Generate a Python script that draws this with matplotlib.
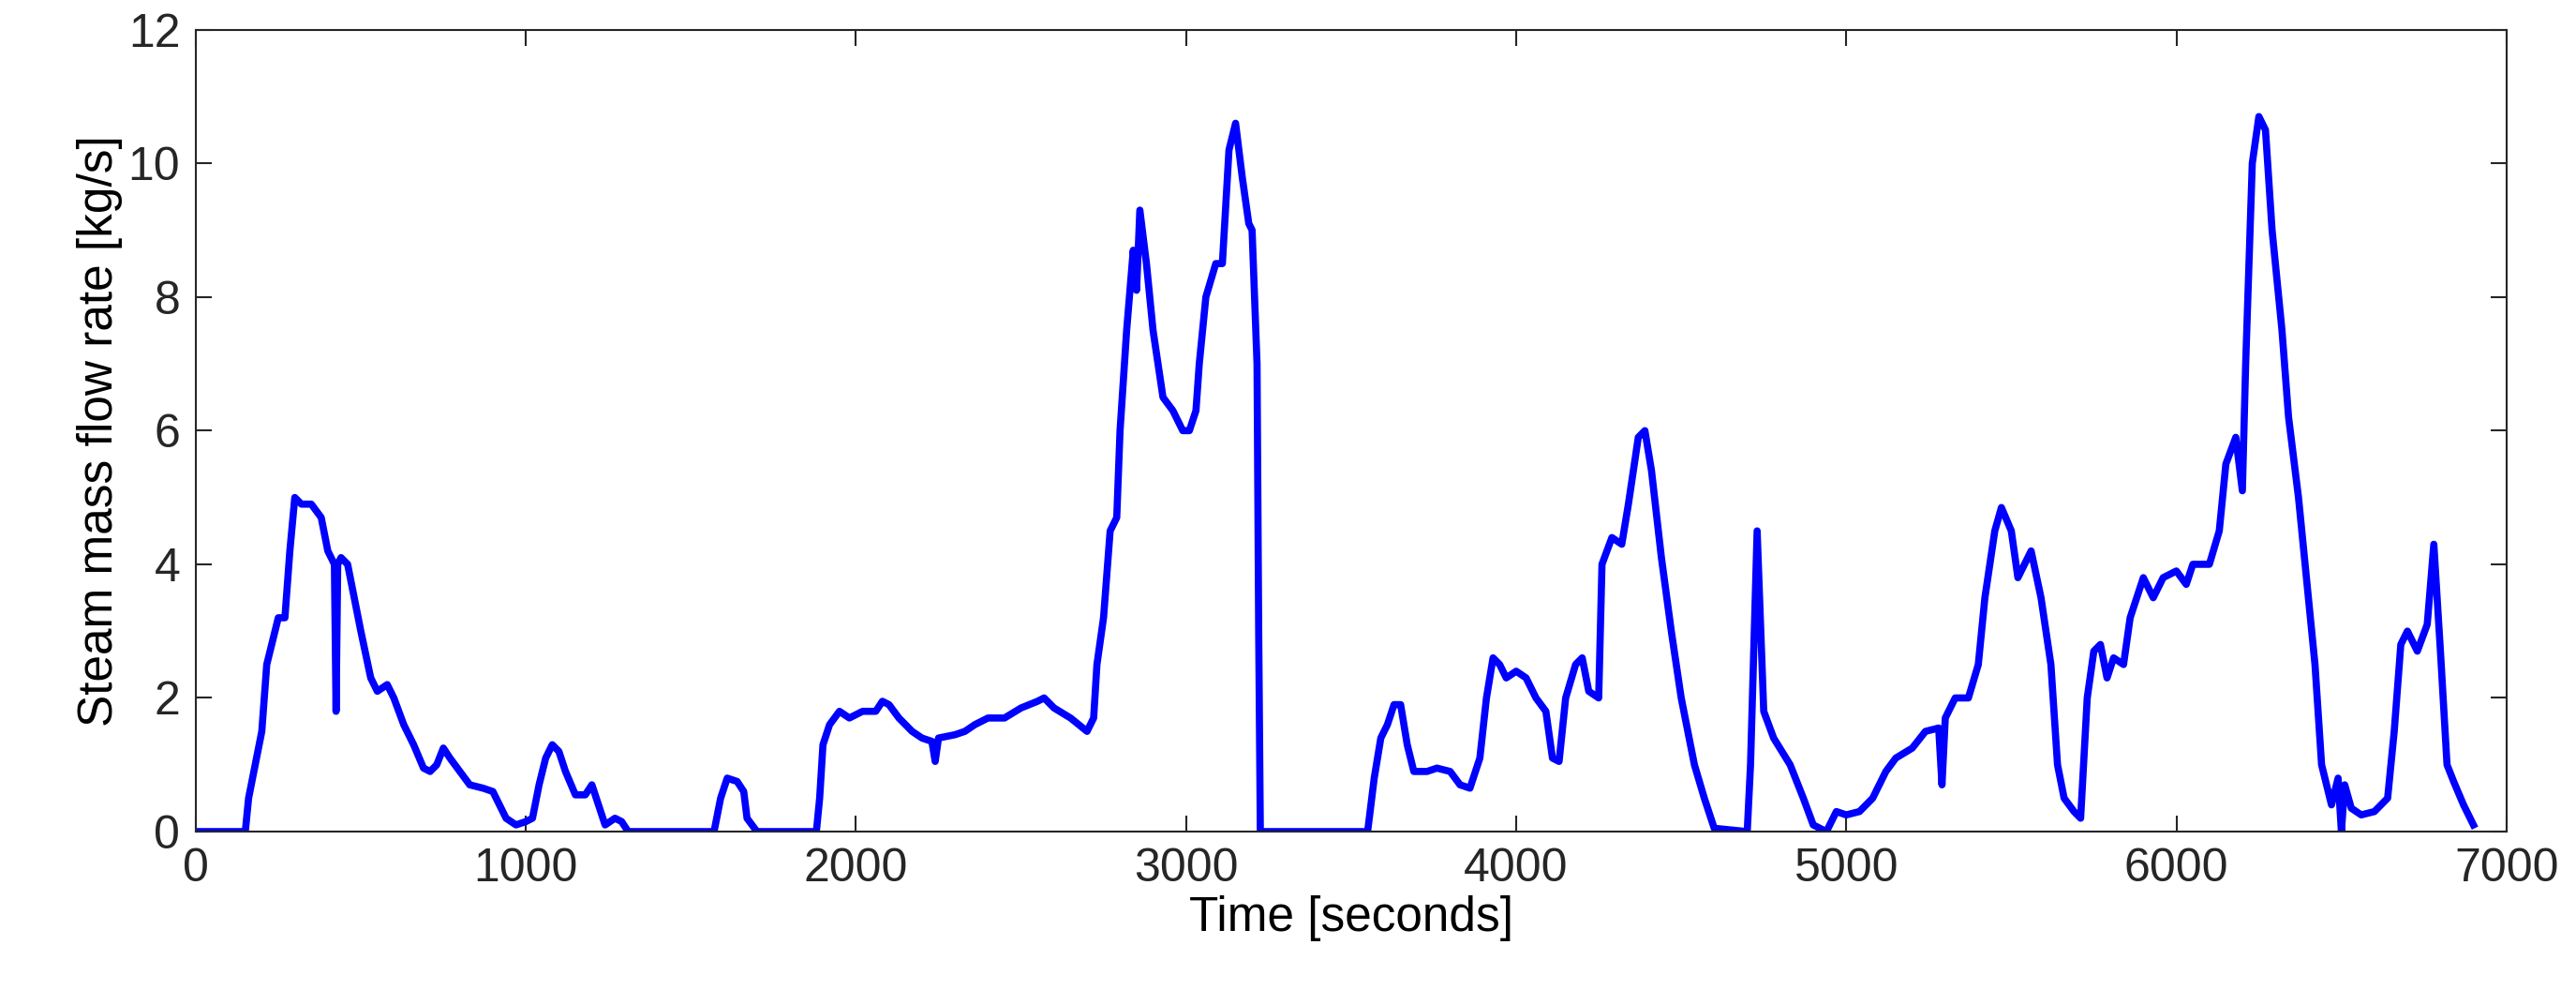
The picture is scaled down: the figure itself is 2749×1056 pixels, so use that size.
import matplotlib
matplotlib.use("Agg")
import matplotlib.pyplot as plt

# time [s] and steam mass flow [kg/s]
t = [0, 150, 160, 180, 200, 215, 230, 250, 270, 285, 300, 320, 350, 380, 400, 420, 425, 430, 440, 460,
     480, 500, 530, 550, 580, 600, 630, 660, 690, 710, 730, 750, 770, 800, 830, 870, 900, 920, 940, 970,
     1000, 1020, 1040, 1060, 1080, 1100, 1120, 1150, 1180, 1200, 1220, 1240, 1270, 1290, 1310, 1570, 1590,
     1610, 1640, 1660, 1670, 1700, 1880, 1890, 1900, 1920, 1950, 1980, 2020, 2060, 2080, 2100, 2130, 2170,
     2200, 2230, 2240, 2250, 2300, 2330, 2360, 2400, 2450, 2500, 2550, 2570, 2600, 2650, 2700, 2720, 2730,
     2750, 2770, 2790, 2800, 2820, 2840, 2850, 2860, 2880, 2900, 2930, 2960, 2990, 3010, 3030, 3040, 3060,
     3090, 3110, 3130, 3150, 3170, 3190, 3200, 3215, 3220, 3225, 3550, 3570, 3590, 3610, 3630, 3650, 3670,
     3690, 3730, 3760, 3800, 3830, 3860, 3890, 3910, 3930, 3950, 3970, 4000, 4030, 4060, 4090, 4110, 4130,
     4150, 4180, 4200, 4220, 4250, 4260, 4290, 4320, 4340, 4370, 4390, 4410, 4440, 4470, 4500, 4540, 4570,
     4600, 4700, 4710, 4730, 4750, 4780, 4830, 4870, 4900, 4940, 4970, 5000, 5040, 5080, 5120, 5150, 5200,
     5240, 5280, 5290, 5300, 5330, 5370, 5400, 5420, 5450, 5470, 5500, 5520, 5560, 5590, 5620, 5640, 5660,
     5690, 5710, 5730, 5750, 5770, 5790, 5810, 5840, 5860, 5900, 5930, 5960, 6000, 6030, 6050, 6100, 6130,
     6150, 6180, 6200, 6210, 6230, 6250, 6270, 6290, 6320, 6340, 6370, 6400, 6420, 6440, 6470, 6490, 6500,
     6510, 6530, 6560, 6600, 6640, 6660, 6680, 6700, 6730, 6760, 6780, 6800, 6820, 6840, 6870, 6900]
flow = [0, 0, 0.5, 1.0, 1.5, 2.5, 2.8, 3.2, 3.2, 4.2, 5.0, 4.9, 4.9, 4.7, 4.2, 4.0, 1.8, 4.0, 4.1, 4.0,
        3.5, 3.0, 2.3, 2.1, 2.2, 2.0, 1.6, 1.3, 0.95, 0.9, 1.0, 1.25, 1.1, 0.9, 0.7, 0.65, 0.6, 0.4, 0.2, 0.1,
        0.15, 0.2, 0.7, 1.1, 1.3, 1.2, 0.9, 0.55, 0.55, 0.7, 0.4, 0.1, 0.2, 0.15, 0, 0, 0.5,
        0.8, 0.75, 0.6, 0.2, 0, 0, 0.5, 1.3, 1.6, 1.8, 1.7, 1.8, 1.8, 1.95, 1.9, 1.7, 1.5,
        1.4, 1.35, 1.05, 1.4, 1.45, 1.5, 1.6, 1.7, 1.7, 1.85, 1.95, 2.0, 1.85, 1.7, 1.5, 1.7, 2.5,
        3.2, 4.5, 4.7, 6.0, 7.5, 8.7, 8.1, 9.3, 8.5, 7.5, 6.5, 6.3, 6.0, 6.0, 6.3, 7.0, 8.0,
        8.5, 8.5, 10.2, 10.6, 9.8, 9.1, 9.0, 7.0, 3.0, 0, 0, 0.8, 1.4, 1.6, 1.9, 1.9, 1.3,
        0.9, 0.9, 0.95, 0.9, 0.7, 0.65, 1.1, 2.0, 2.6, 2.5, 2.3, 2.4, 2.3, 2.0, 1.8, 1.1, 1.05,
        2.0, 2.5, 2.6, 2.1, 2.0, 4.0, 4.4, 4.3, 4.9, 5.9, 6.0, 5.4, 4.1, 3.0, 2.0, 1.0, 0.5,
        0.05, 0, 1.0, 4.5, 1.8, 1.4, 1.0, 0.5, 0.1, 0, 0.3, 0.25, 0.3, 0.5, 0.9, 1.1, 1.25,
        1.5, 1.55, 0.7, 1.7, 2.0, 2.0, 2.5, 3.5, 4.5, 4.85, 4.5, 3.8, 4.2, 3.5, 2.5, 1.0, 0.5,
        0.3, 0.2, 2.0, 2.7, 2.8, 2.3, 2.6, 2.5, 3.2, 3.8, 3.5, 3.8, 3.9, 3.7, 4.0, 4.0, 4.5,
        5.5, 5.9, 5.1, 7.0, 10.0, 10.7, 10.5, 9.0, 7.5, 6.2, 5.0, 3.5, 2.5, 1.0, 0.4, 0.8, 0.0,
        0.7, 0.35, 0.25, 0.3, 0.5, 1.5, 2.8, 3.0, 2.7, 3.1, 4.3, 2.7, 1.0, 0.75, 0.4, 0.1]

plt.rcParams['font.family'] = ['Arial', 'Liberation Sans', 'DejaVu Sans']
fig = plt.figure(figsize=(27.49, 10.56), dpi=100)
ax = fig.add_axes([0.076, 0.16, 0.897, 0.81])
ax.plot(t, flow, color='#0000FF', linewidth=5.5, solid_joinstyle='round')
ax.set_xlim(0, 7000)
ax.set_ylim(0, 12)
ax.set_xticks(range(0, 7001, 1000))
ax.set_yticks(range(0, 13, 2))
ax.tick_params(direction='in', length=12, width=1.5, labelsize=36, pad=12,
               top=True, right=True, colors='#262626')
for s in ax.spines.values():
    s.set_linewidth(1.5)
    s.set_color('#262626')
ax.set_xlabel('Time [seconds]', fontsize=37)
ax.set_ylabel('Steam mass flow rate [kg/s]', fontsize=37)
fig.savefig('out.png', dpi=100)
